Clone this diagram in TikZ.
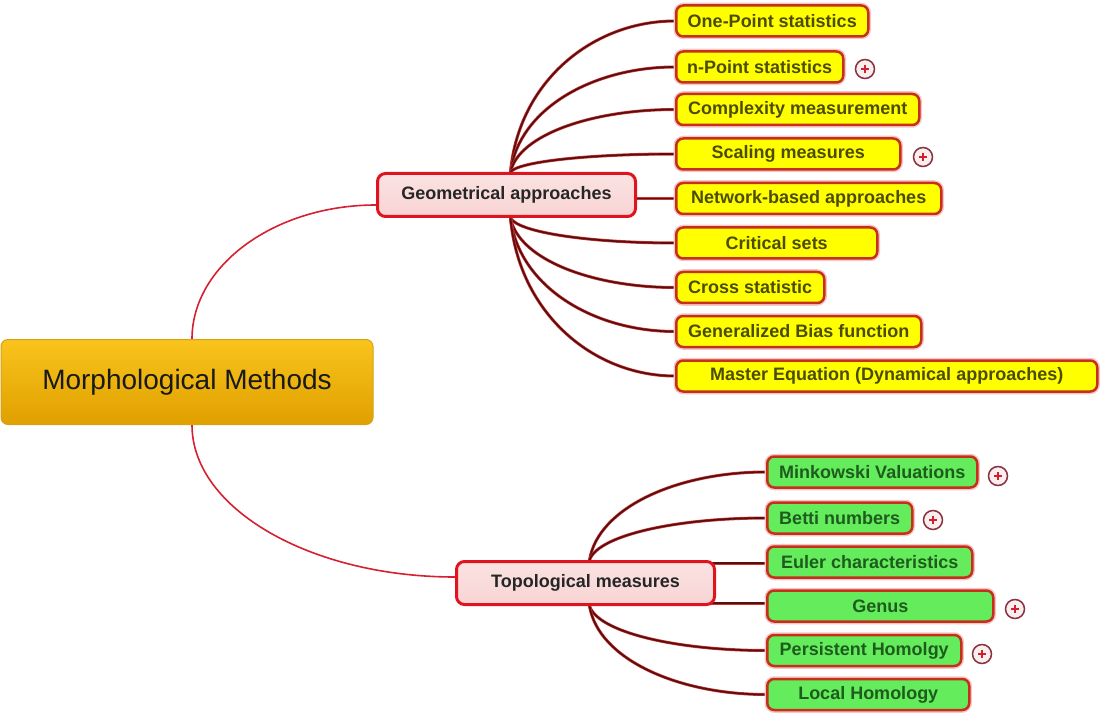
\documentclass[tikz,border=0pt]{standalone}
\usepackage{fontspec}
\setmainfont{Liberation Sans}
\usetikzlibrary{calc,backgrounds}

\definecolor{rootTop}{HTML}{F9C41C}
\definecolor{rootBot}{HTML}{E0A000}
\definecolor{rootLine}{HTML}{D6A21A}
\definecolor{topicLine}{HTML}{E0141E}
\definecolor{topicTop}{HTML}{FBE2E2}
\definecolor{topicMid}{HTML}{FFFAFA}
\definecolor{topicBot}{HTML}{F8D4D4}
\definecolor{leafLine}{HTML}{C4301A}
\definecolor{leafGlow}{HTML}{F6C6C6}
\definecolor{yellowFill}{HTML}{FFFF00}
\definecolor{yellowText}{HTML}{4C4C00}
\definecolor{greenFill}{HTML}{64EC5C}
\definecolor{greenText}{HTML}{1E5C1E}
\definecolor{trunkRed}{HTML}{D42030}
\definecolor{branchDark}{HTML}{5A0E0E}
\definecolor{branchHalo}{HTML}{C83434}
\definecolor{plusRing}{HTML}{8B3040}
\definecolor{plusFill}{HTML}{F8EEEE}
\definecolor{plusMark}{HTML}{D02030}

% curved branch: leaves the parent steeply, arrives at the child horizontally
\newcommand{\mmbranch}[2]{%
  \draw[subedge] let \p1=(#1), \p2=(#2) in
    (\p1) .. controls ({\x1+0.05*(\x2-\x1)},{\y1+0.6*(\y2-\y1)})
          and ({\x2-0.5*(\x2-\x1)},{\y2}) .. (\p2);}
% quarter-ellipse link from the central topic
\newcommand{\mmtrunk}[2]{%
  \draw[mainedge] let \p1=(#1), \p2=(#2) in
    (\p1) .. controls (\x1,{\y1+0.55*(\y2-\y1)})
          and ({\x2-0.55*(\x2-\x1)},\y2) .. (\p2);}

\begin{document}
\begin{tikzpicture}[x=1pt,y=-1pt,
  rootbox/.style={draw=rootLine, line width=1pt, rounded corners=7pt,
    top color=rootTop, bottom color=rootBot, minimum width=372pt,
    minimum height=85pt, inner sep=0pt, text=black!90,
    font=\fontsize{28}{32}\selectfont},
  topicbox/.style={draw=topicLine, line width=3pt, rounded corners=8pt,
    top color=topicTop, middle color=topicMid, bottom color=topicBot,
    minimum width=258pt, minimum height=43pt, inner sep=0pt,
    text=black!85, font=\fontsize{18}{20}\selectfont\bfseries},
  leafbox/.style={draw=leafLine, line width=2.5pt, rounded corners=7pt,
    preaction={draw=leafGlow, line width=5.5pt},
    minimum height=31pt, inner sep=0pt, anchor=west,
    font=\fontsize{18}{20}\selectfont\bfseries},
  yleaf/.style={leafbox, fill=yellowFill, text=yellowText, minimum width=#1},
  gleaf/.style={leafbox, fill=greenFill, text=greenText, minimum width=#1},
  plusmark/.style={circle, draw=plusRing, line width=1.5pt, fill=plusFill,
    minimum size=19pt, inner sep=0pt,
    path picture={\draw[plusMark, line width=1.5pt]
      ($(path picture bounding box.center)+(-4,0)$) -- ++(8,0)
      ($(path picture bounding box.center)+(0,-4)$) -- ++(0,8);}},
  mainedge/.style={draw=trunkRed, line width=1.6pt},
  subedge/.style={draw=branchDark, line width=1.7pt,
    preaction={draw=branchHalo, line width=3pt}},
]
\useasboundingbox (0,0) rectangle (1101,714);

% central topic and the two main topics
\node[rootbox] (root) at (187,382) {Morphological Methods};
\node[topicbox] (geo) at (506.5,195) {Geometrical approaches};
\node[topicbox] (topo) at (585.5,583) {Topological measures};

% geometrical approaches
\node[yleaf=192pt] (g1) at (675,21) {One-Point statistics};
\node[yleaf=167pt] (g2) at (675,67) {n-Point statistics};
\node[yleaf=243pt] (g3) at (675,109.5) {Complexity measurement};
\node[yleaf=224pt] (g4) at (675,154) {Scaling measures};
\node[yleaf=265pt] (g5) at (675,198.5) {Network-based approaches};
\node[yleaf=201pt] (g6) at (675,243) {Critical sets};
\node[yleaf=148pt] (g7) at (675,287.5) {Cross statistic};
\node[yleaf=245pt] (g8) at (675,331.5) {Generalized Bias function};
\node[yleaf=421pt] (g9) at (675,376) {Master Equation (Dynamical approaches)};

% topological measures
\node[gleaf=210pt] (t1) at (766,472) {Minkowski Valuations};
\node[gleaf=145pt] (t2) at (766,518) {Betti numbers};
\node[gleaf=205pt] (t3) at (766,562) {Euler characteristics};
\node[gleaf=226pt] (t4) at (766,606) {Genus};
\node[gleaf=194pt] (t5) at (766,650.5) {Persistent Homolgy};
\node[gleaf=202pt] (t6) at (766,694.5) {Local Homology};

% collapsed-branch markers
\node[plusmark] (p1) at (865,69) {};
\node[plusmark] (p2) at (923,157) {};
\node[plusmark] (p3) at (998,476) {};
\node[plusmark] (p4) at (933,520) {};
\node[plusmark] (p5) at (1015,609) {};
\node[plusmark] (p6) at (982,654) {};

% branch origins on the main topics
\coordinate (gtop) at ($(geo.north)+(4,0)$);
\coordinate (gbot) at ($(geo.south)+(4,0)$);
\coordinate (ttop) at ($(topo.north)+(4,0)$);
\coordinate (tbot) at ($(topo.south)+(4,0)$);
\coordinate (rtop) at ($(root.north)+(5,0)$);
\coordinate (rbot) at ($(root.south)+(5,0)$);
\coordinate (gin) at ($(geo.west)+(0,10)$);
\coordinate (tin) at ($(topo.west)+(0,-6)$);

\begin{scope}[on background layer]
  \mmtrunk{rtop}{gin}
  \mmtrunk{rbot}{tin}

  \mmbranch{gtop}{g1.west}
  \mmbranch{gtop}{g2.west}
  \mmbranch{gtop}{g3.west}
  \mmbranch{gtop}{g4.west}
  \draw[subedge] ($(geo.east |- g5.west)+(-6,0)$) -- (g5.west);
  \mmbranch{gbot}{g6.west}
  \mmbranch{gbot}{g7.west}
  \mmbranch{gbot}{g8.west}
  \mmbranch{gbot}{g9.west}

  \mmbranch{ttop}{t1.west}
  \mmbranch{ttop}{t2.west}
  \draw[subedge] ($(topo.east |- t3.west)+(-8,1)$) -- ($(t3.west)+(0,1)$);
  \draw[subedge] ($(topo.east |- t4.west)+(-8,-3)$) -- ($(t4.west)+(0,-3)$);
  \mmbranch{tbot}{t5.west}
  \mmbranch{tbot}{t6.west}
\end{scope}
\end{tikzpicture}
\end{document}
